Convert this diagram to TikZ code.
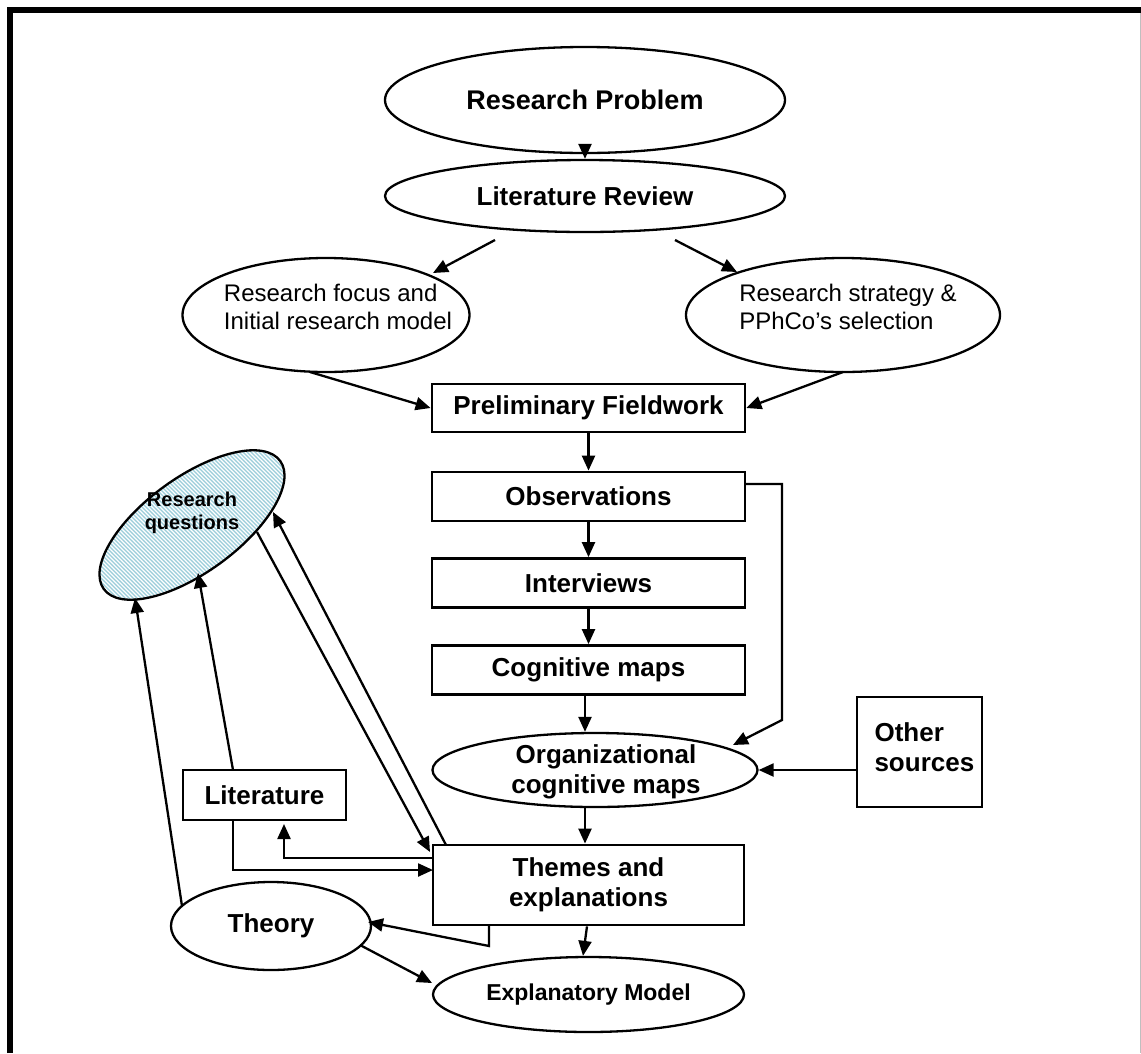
\documentclass[tikz,border=0pt]{standalone}
\usepackage{fontspec}
\setmainfont{Liberation Sans}
\usetikzlibrary{shapes.geometric,arrows.meta,calc,patterns}

% diagonal hatching for the research-questions oval
\pgfdeclarepatternformonly{rqhatch}{\pgfqpoint{-1pt}{-1pt}}{\pgfqpoint{5pt}{5pt}}{\pgfqpoint{4pt}{4pt}}{%
  \pgfsetlinewidth{1.4pt}%
  \pgfpathmoveto{\pgfqpoint{0pt}{4pt}}%
  \pgfpathlineto{\pgfqpoint{4.1pt}{-0.1pt}}%
  \pgfusepath{stroke}}
\definecolor{hatchblue}{RGB}{155,205,218}

\begin{document}
\begin{tikzpicture}[x=1pt,y=-1pt,
  conn/.style={line width=2.3pt,-{Triangle[length=15pt,width=13pt]}},
  oval/.style={ellipse,draw,line width=2.3pt,inner sep=0pt},
  boxnode/.style={rectangle,draw,line width=2.8pt,inner sep=0pt},
  bigbold/.style={font=\fontsize{26}{30}\selectfont\bfseries},
  regtext/.style={font=\fontsize{24}{28}\selectfont,align=left},
]
% page and frame
\fill[white] (0,0) rectangle (1141,1053);
\useasboundingbox (0,0) rectangle (1141,1053);
\draw[line width=6pt] (9.5,1053) -- (9.5,10) -- (1141,10);
\draw[black!25,line width=1pt] (1140,13) -- (1140,1053);

% top of the flow
\node[oval,minimum width=400pt,minimum height=106pt,font=\fontsize{27}{30}\selectfont\bfseries] (rp) at (585,100) {Research Problem};
\node[oval,minimum width=400pt,minimum height=72pt,bigbold] (lr) at (585,196) {Literature Review};

\node[oval,minimum width=287pt,minimum height=114pt] (rf) at (326,315) {};
\node[regtext] (rft) at (338,307) {Research focus and\\Initial research model};
\node[oval,minimum width=314pt,minimum height=114pt] (rs) at (843,315) {};
\node[regtext] (rst) at (848,307) {Research strategy \&\\PPhCo’s selection};

% main column of steps
\node[boxnode,minimum width=313pt,minimum height=48pt,bigbold] (pf) at (588.5,408) {Preliminary Fieldwork};
\node[boxnode,minimum width=313pt,minimum height=49pt,bigbold] (obs) at (588.5,496.5) {Observations};
\node[boxnode,minimum width=313pt,minimum height=49pt,bigbold] (int) at (588.5,583) {Interviews};
\node[boxnode,minimum width=313pt,minimum height=49pt,bigbold] (cm) at (588.5,670) {Cognitive maps};
\node[oval,minimum width=325pt,minimum height=74pt] (org) at (595,770) {};
\node[bigbold,align=center] (orgt) at (606,772) {Organizational\\cognitive maps};
\node[boxnode,minimum width=125pt,minimum height=110pt] (oth) at (919.5,752) {};
\node[bigbold,align=left,anchor=west] (otht) at (871,747) {Other\\sources};
\node[boxnode,minimum width=311pt,minimum height=80pt,bigbold,align=center] (th) at (588.5,885) {Themes and\\explanations};
\node[oval,minimum width=311pt,minimum height=75pt,font=\fontsize{23}{26}\selectfont\bfseries] (em) at (588.5,994.5) {Explanatory Model};

% left side
\node[boxnode,minimum width=163pt,minimum height=50pt,bigbold] (lit) at (264.5,795) {Literature};
\node[oval,minimum width=200pt,minimum height=88pt,bigbold] (theo) at (271,926) {Theory};
\node[oval,rotate=36,minimum width=218pt,minimum height=95pt,pattern=rqhatch,pattern color=hatchblue] (rq) at (192,525) {};
\node[font=\fontsize{20}{23}\selectfont\bfseries,align=center] (rqt) at (192,513) {Research\\questions};

% connector end points
\coordinate (lrL) at (495,240);
\coordinate (rfTip) at (433,273);
\coordinate (lrR) at (675,240);
\coordinate (rsTip) at (737,272);
\coordinate (rfOut) at (310,372);
\coordinate (rsOut) at (843,372);
\coordinate (obsOut) at (745,484);
\coordinate (obsBend) at (782,484);
\coordinate (obsDown) at (782,720);
\coordinate (orgTip) at (733,745);
\coordinate (othOut) at (857,770);
\coordinate (thOutT) at (489,925);
\coordinate (thBendT) at (489,946);
\coordinate (theoTip) at (368,922);
\coordinate (theoOut) at (360,945);
\coordinate (emTip) at (432,983);
\coordinate (litOut) at (233,820);
\coordinate (litBend) at (233,870);
\coordinate (thInL) at (433,870);
\coordinate (thOutL) at (433,858);
\coordinate (litBack) at (284,858);
\coordinate (litTip) at (284,824);
\coordinate (litTop) at (233,770);
\coordinate (rqTipL) at (198,573);
\coordinate (theoTop) at (182,906);
\coordinate (rqTipT) at (135,598);
\coordinate (rqOutA) at (257,532);
\coordinate (thTipA) at (430,852);
\coordinate (thOutB) at (446,845);
\coordinate (rqTipB) at (273,512);

% connectors
\draw[conn] (rp.south) -- (lr.north);
\draw[conn] (lrL) -- (rfTip);
\draw[conn] (lrR) -- (rsTip);
\draw[conn] (rfOut) -- (pf.west);
\draw[conn] (rsOut) -- (pf.east);
\draw[conn] (pf.south) -- (obs.north);
\draw[conn] (obs.south) -- (int.north);
\draw[conn] (int.south) -- (cm.north);
\draw[conn] (cm.south -| 585,0) -- (org.north -| 585,0);
\draw[conn] (org.south -| 585,0) -- (th.north -| 585,0);
\draw[conn] (obsOut) -- (obsBend) -- (obsDown) -- (orgTip);
\draw[conn] (othOut) -- (org.east |- othOut);
\draw[conn] (th.south -| 587,0) -- (em.north -| 583,0);
\draw[conn] (thOutT) -- (thBendT) -- (theoTip);
\draw[conn] (theoOut) -- (emTip);
\draw[conn] (litOut) -- (litBend) -- (thInL);
\draw[conn] (thOutL) -- (litBack) -- (litTip);
\draw[conn] (litTop) -- (rqTipL);
\draw[conn] (theoTop) -- (rqTipT);
\draw[conn] (rqOutA) -- (thTipA);
\draw[conn] (thOutB) -- (rqTipB);
\end{tikzpicture}
\end{document}
